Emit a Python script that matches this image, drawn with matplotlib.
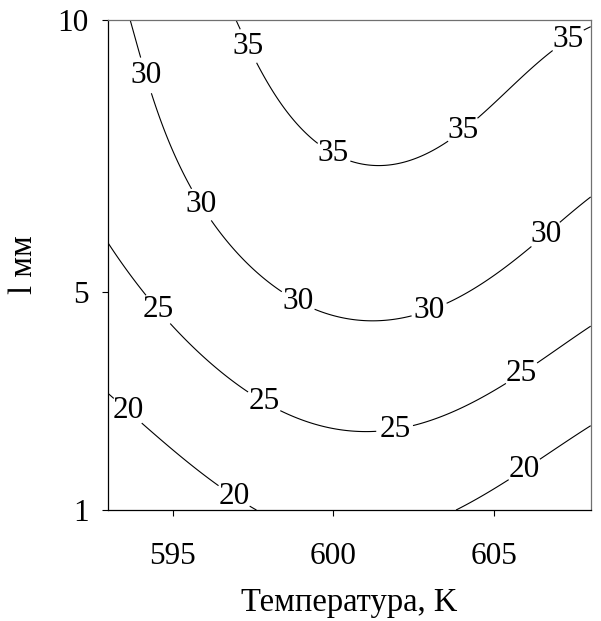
import numpy as np
import matplotlib
matplotlib.use("Agg")
import matplotlib.pyplot as plt

plt.rcParams["font.family"] = ["Liberation Serif", "DejaVu Serif"]

# Contour levels of the response and traced points (temperature K, length mm) on each level
levels = [20, 25, 30, 35]

t_20 = [593.0, 593.57, 594.09, 596.37, 596.89, 597.56, 603.83, 605.38, 605.95, 606.47, 607.97]
l_20 = [3.17, 2.80, 2.56, 1.46, 1.24, 1.03, 1.01, 1.55, 1.73, 1.95, 2.53]

t_25 = [593.0, 594.09, 594.52, 595.07, 597.30, 597.87, 598.44, 599.89, 600.51, 601.03,
        601.45, 601.91, 602.48, 605.33, 605.85, 606.37, 607.97]
l_25 = [5.90, 5.01, 4.67, 4.36, 3.26, 3.02, 2.84, 2.48, 2.44, 2.43,
        2.44, 2.47, 2.59, 3.33, 3.51, 3.72, 4.37]

t_30 = [593.70, 593.99, 594.16, 594.35, 595.52, 595.87, 596.26, 597.20, 598.34, 598.86,
        599.37, 599.89, 600.51, 601.03, 602.43, 603.00, 603.57, 605.69, 606.01, 606.57,
        607.14, 607.97]
l_30 = [10.0, 9.34, 8.98, 8.62, 6.97, 6.60, 6.27, 5.62, 5.01, 4.80,
        4.67, 4.56, 4.47, 4.46, 4.54, 4.64, 4.84, 5.62, 5.78, 6.08,
        6.33, 6.72]

t_35 = [596.96, 597.04, 597.35, 597.66, 599.53, 599.99, 600.57, 601.13, 602.28, 603.47,
        603.99, 604.55, 605.28, 606.78, 607.33, 607.87]
l_35 = [10.0, 9.88, 9.52, 9.17, 7.76, 7.54, 7.40, 7.34, 7.49, 7.89,
        8.01, 8.16, 8.53, 9.33, 9.60, 9.94]

# Where the level values are printed on the lines
label_t = [597.35, 599.99, 603.99, 607.33,
           594.16, 595.87, 598.86, 603.00, 606.57,
           594.52, 597.87, 601.91, 605.85,
           593.57, 596.89, 605.95]
label_l = [9.52, 7.54, 8.01, 9.60,
           8.98, 6.60, 4.80, 4.64, 6.08,
           4.67, 3.02, 2.47, 3.51,
           2.80, 1.24, 1.73]

x_ticks = [595, 600, 605]
y_ticks = [1, 5, 10]
x_range = (593, 608)
y_range = (1, 10)


def basis(T, L, degree=4):
    t = (np.asarray(T, float) - 600.0) / 7.5
    s = (np.asarray(L, float) - 5.5) / 4.5
    cols = [t ** i * s ** (d - i) for d in range(degree + 1) for i in range(d + 1)]
    return np.stack(cols, axis=-1)


# Polynomial response surface fitted through the traced level points
T_pts = np.concatenate([t_20, t_25, t_30, t_35])
L_pts = np.concatenate([l_20, l_25, l_30, l_35])
Z_pts = np.concatenate([np.full(len(t_20), 20.0), np.full(len(t_25), 25.0),
                        np.full(len(t_30), 30.0), np.full(len(t_35), 35.0)])
coef, *_ = np.linalg.lstsq(basis(T_pts, L_pts), Z_pts, rcond=None)

Tg, Lg = np.meshgrid(np.linspace(*x_range, 400), np.linspace(*y_range, 400))
Zg = basis(Tg, Lg) @ coef

fig = plt.figure(figsize=(6.01, 6.21), dpi=100)
ax = fig.add_axes([0.1802, 0.1787, 0.8027, 0.7891])

cs = ax.contour(Tg, Lg, Zg, levels=levels, colors="black", linewidths=0.8)
labels = ax.clabel(cs, fmt="%d", fontsize=22.5, inline=True, inline_spacing=3,
                   manual=list(zip(label_t, label_l)))
for txt in labels:
    txt.set_rotation(0)

ax.set_xlim(*x_range)
ax.set_ylim(*y_range)
ax.set_xticks(x_ticks)
ax.set_yticks(y_ticks)
ax.tick_params(axis="both", direction="out", length=4, width=0.8, labelsize=22.5)
ax.tick_params(axis="x", pad=19)
ax.tick_params(axis="y", pad=10)

for side in ("left", "bottom"):
    ax.spines[side].set_color("black")
    ax.spines[side].set_linewidth(0.9)
for side in ("top", "right"):
    ax.spines[side].set_color("#707070")
    ax.spines[side].set_linewidth(0.9)

ax.set_xlabel("Температура, K", fontsize=23.5)
ax.set_ylabel("l мм", fontsize=23.5)
ax.xaxis.set_label_coords(0.5, -0.158)
ax.yaxis.set_label_coords(-0.143, 0.5)

fig.savefig("out.png", dpi=100)
